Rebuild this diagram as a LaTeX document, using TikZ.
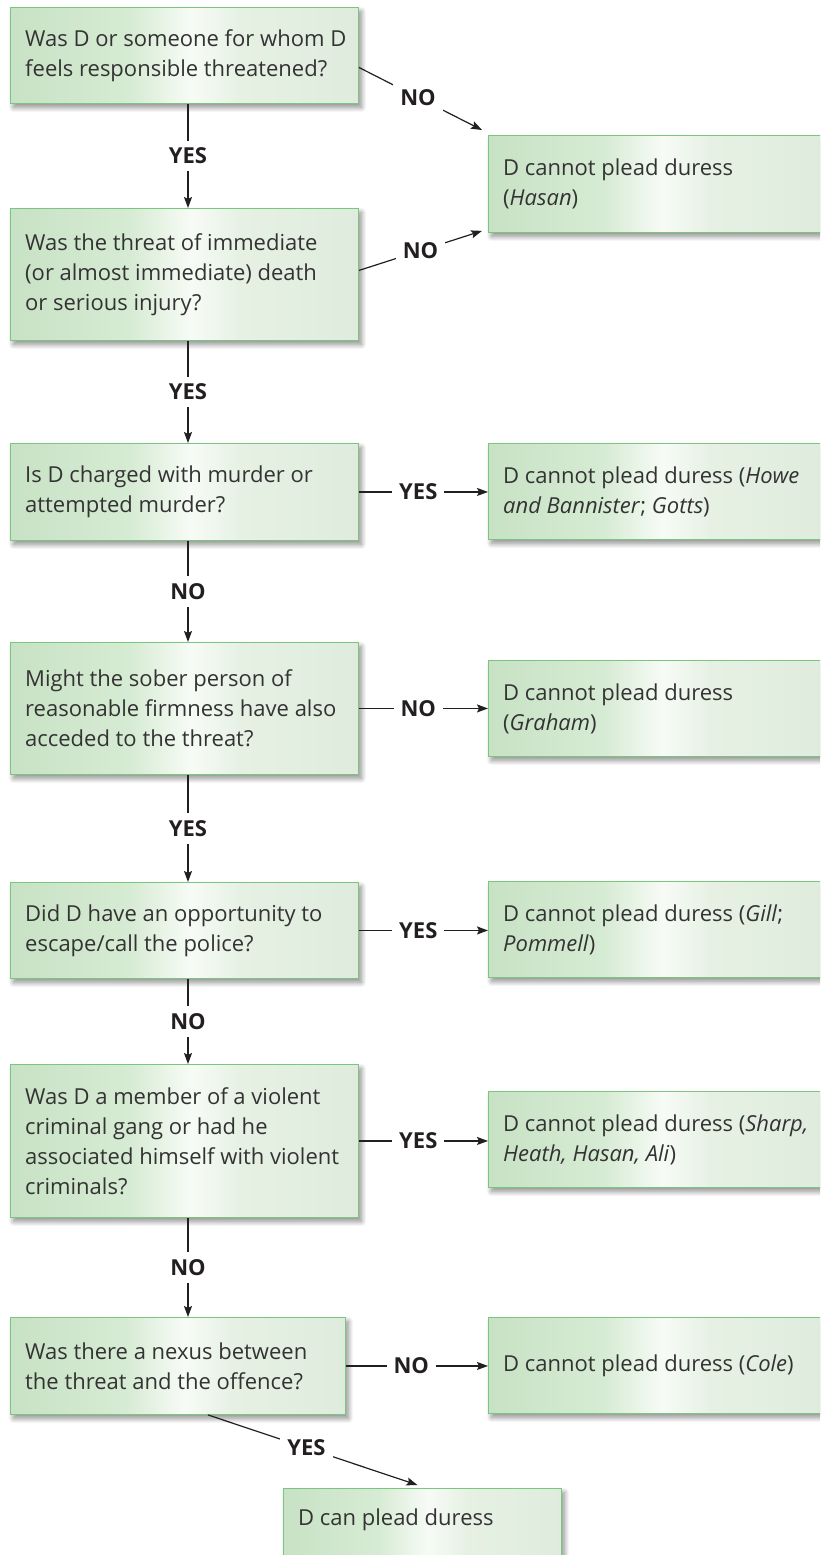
\documentclass[tikz,border=0pt]{standalone}
\usepackage{fontspec}
\setmainfont{Open Sans}
\usetikzlibrary{arrows.meta,shadows.blur,calc}

\definecolor{boxline}{RGB}{122,198,126}
\definecolor{gA}{RGB}{200,226,197}
\definecolor{gB}{RGB}{214,235,211}
\definecolor{gW}{RGB}{247,251,246}
\definecolor{gC}{RGB}{230,241,228}
\definecolor{gD}{RGB}{223,236,221}
\definecolor{txtcol}{RGB}{51,51,51}
\definecolor{linecol}{RGB}{35,31,32}

% light green fill, brightest a little right of centre
\pgfdeclarehorizontalshading{boxfill}{100bp}{color(0bp)=(gA); color(25bp)=(gA); color(42bp)=(gB); color(51bp)=(gW); color(58bp)=(gC); color(75bp)=(gD); color(100bp)=(gD)}

\newcommand\bodyfont{\fontsize{22}{30}\selectfont}

\begin{document}
\begin{tikzpicture}[x=1pt,y=-1pt,
  box/.style={draw=boxline, line width=0.9pt, shade, shading=boxfill,
    anchor=north west, inner sep=0pt,
    blur shadow={shadow xshift=3pt, shadow yshift=-4pt, shadow blur radius=5pt,
      shadow blur steps=10, shadow opacity=45}},
  txt/.style={anchor=west, align=left, inner sep=0pt, text=txtcol, font=\bodyfont},
  conn/.style={draw=linecol, line width=1.2pt, -{Stealth[length=11pt,width=8pt,inset=2pt]}},
  vconn/.style={conn, line width=1.5pt},
  lbl/.style={fill=white, text=linecol, font=\bodyfont\bfseries, inner xsep=7pt, inner ysep=7pt}]

\useasboundingbox (0,0) rectangle (820,1555);
\begin{scope}
\clip (0,0) rectangle (820,1555);

% question boxes
\node[box, minimum width=348, minimum height=96]  (q1) at (10,7) {};
\node[box, minimum width=348, minimum height=132] (q2) at (10,208) {};
\node[box, minimum width=348, minimum height=97]  (q3) at (10,443) {};
\node[box, minimum width=348, minimum height=132] (q4) at (10,642) {};
\node[box, minimum width=348, minimum height=96]  (q5) at (10,882) {};
\node[box, minimum width=348, minimum height=153] (q6) at (10,1064) {};
\node[box, minimum width=335, minimum height=97]  (q7) at (10,1317) {};

% outcome boxes
\node[box, minimum width=336, minimum height=97] (r1) at (488,135) {};
\node[box, minimum width=336, minimum height=96] (r2) at (488,443) {};
\node[box, minimum width=336, minimum height=96] (r3) at (488,660) {};
\node[box, minimum width=336, minimum height=96] (r4) at (488,881) {};
\node[box, minimum width=336, minimum height=96] (r5) at (488,1091) {};
\node[box, minimum width=336, minimum height=96] (r6) at (488,1317) {};
\node[box, minimum width=278, minimum height=96] (fin) at (283,1488) {};

% texts
\node[txt] (q1t) at ([xshift=15pt]q1.west) {Was D or someone for whom D\\feels responsible threatened?};
\node[txt] (q2t) at ([xshift=15pt]q2.west) {Was the threat of immediate\\(or almost immediate) death\\or serious injury?};
\node[txt] (q3t) at ([xshift=15pt]q3.west) {Is D charged with murder or\\attempted murder?};
\node[txt] (q4t) at ([xshift=15pt]q4.west) {Might the sober person of\\reasonable firmness have also\\acceded to the threat?};
\node[txt] (q5t) at ([xshift=15pt]q5.west) {Did D have an opportunity to\\escape/call the police?};
\node[txt] (q6t) at ([xshift=15pt]q6.west) {Was D a member of a violent\\criminal gang or had he\\associated himself with violent\\criminals?};
\node[txt] (q7t) at ([xshift=15pt]q7.west) {Was there a nexus between\\the threat and the offence?};

\node[txt] (r1t) at ([xshift=15pt]r1.west) {D cannot plead duress\\(\textit{Hasan})};
\node[txt] (r2t) at ([xshift=15pt]r2.west) {D cannot plead duress (\textit{Howe}\\\textit{and Bannister}; \textit{Gotts})};
\node[txt] (r3t) at ([xshift=15pt]r3.west) {D cannot plead duress\\(\textit{Graham})};
\node[txt] (r4t) at ([xshift=15pt]r4.west) {D cannot plead duress (\textit{Gill};\\\textit{Pommell})};
\node[txt] (r5t) at ([xshift=15pt]r5.west) {D cannot plead duress (\textit{Sharp,}\\\textit{Heath, Hasan, Ali})};
\node[txt] (r6t) at ([xshift=15pt]r6.west) {D cannot plead duress (\textit{Cole})};
\node[txt] (fint) at ([xshift=15pt]fin.west) {D can plead duress\\\strut};

% vertical chain
\coordinate (xc) at (188,0);
\draw[vconn] (q1.south -| xc) -- node[lbl]{YES} (q2.north -| xc);
\draw[vconn] (q2.south -| xc) -- node[lbl]{YES} (q3.north -| xc);
\draw[vconn] (q3.south -| xc) -- node[lbl]{NO}  (q4.north -| xc);
\draw[vconn] (q4.south -| xc) -- node[lbl]{YES} (q5.north -| xc);
\draw[vconn] (q5.south -| xc) -- node[lbl]{NO}  (q6.north -| xc);
\draw[vconn] (q6.south -| xc) -- node[lbl]{NO}  (q7.north -| xc);

% branches to the right
\draw[conn] ([yshift=-12pt]q1.east) -- node[lbl,pos=0.48]{NO} ([xshift=-6pt,yshift=5pt]r1.north west);
\draw[conn] ([yshift=4pt]q2.east) -- node[lbl,pos=0.5]{NO} ([xshift=-6pt,yshift=2pt]r1.south west);
\draw[conn] (q3.east) -- node[lbl,pos=0.46]{YES} (q3.east -| r2.west);
\draw[conn] (q4.east) -- node[lbl,pos=0.46]{NO}  (q4.east -| r3.west);
\draw[conn] (q5.east) -- node[lbl,pos=0.46]{YES} (q5.east -| r4.west);
\draw[conn] (q6.east) -- node[lbl,pos=0.46]{YES} (q6.east -| r5.west);
\draw[conn] (q7.east) -- node[lbl,pos=0.46]{NO}  (q7.east -| r6.west);
\draw[conn] ([xshift=30pt]q7.south) -- node[lbl,pos=0.47]{YES} ([xshift=-5pt,yshift=3pt]fin.north);
\end{scope}
\end{tikzpicture}
\end{document}
